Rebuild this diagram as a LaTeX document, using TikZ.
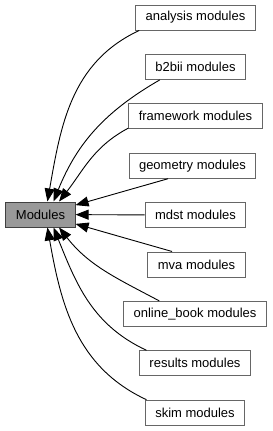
\documentclass[tikz,border=0pt]{standalone}
\usepackage{fontspec}
\setmainfont{Liberation Sans}
\usepackage{tikz}
\usetikzlibrary{arrows.meta}

\definecolor{boxline}{HTML}{666666}
\definecolor{modfill}{HTML}{999999}
\definecolor{modline}{HTML}{404040}

\begin{document}
\begin{tikzpicture}[x=1pt, y=1pt, node distance=49.4pt,
    every node/.style={font=\fontsize{13}{15}\selectfont},
    group/.style={draw=boxline, line width=1pt, rectangle, minimum height=25pt, inner xsep=10pt, inner ysep=0pt},
    dep/.style={-{Triangle[length=13pt, width=10pt]}, line width=0.9pt}]
    \useasboundingbox (0,0) rectangle (273,-431);

    % Main group
    \node[group, draw=modline, fill=modfill] (modules) at (40.5,-214.5) {Modules};

    % Sub groups
    \node[group] (analysis) at (195.5,-17.5) {analysis modules};
    \node[group, below of=analysis] (b2bii) {b2bii modules};
    \node[group, below of=b2bii] (framework) {framework modules};
    \node[group, below of=framework, xshift=-3pt] (geometry) {geometry modules};
    \node[group, below of=geometry, xshift=3pt] (mdst) {mdst modules};
    \node[group, below of=mdst, xshift=1pt] (mva) {mva modules};
    \node[group, below of=mva, xshift=-1.5pt] (onlinebook) {online\_book modules};
    \node[group, below of=onlinebook] (results) {results modules};
    \node[group, below of=results] (skim) {skim modules};

    % Arrows
    \draw[dep] (analysis.193) to[out=205, in=80] (modules.62);
    \draw[dep] (b2bii.200) to[out=210, in=68] (modules.45);
    \draw[dep] (framework.190) to[out=208, in=52] (modules.35);
    \draw[dep] (geometry.208) -- (modules.15);
    \draw[dep] (mdst) -- (modules);
    \draw[dep] (mva.152) -- (modules.-15);
    \draw[dep] (onlinebook.160) to[out=152, in=-52] (modules.-35);
    \draw[dep] (results.165) to[out=155, in=-68] (modules.-45);
    \draw[dep] (skim.165) to[out=155, in=-80] (modules.-62);
\end{tikzpicture}
\end{document}
